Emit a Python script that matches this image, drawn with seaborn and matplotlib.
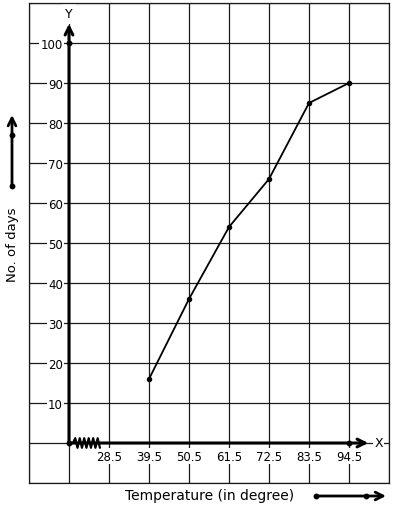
import numpy as np
import pandas as pd
import matplotlib
matplotlib.use("Agg")
import matplotlib.pyplot as plt
import seaborn as sns

# ---- data ----
upper_limits = [39.5, 50.5, 61.5, 72.5, 83.5, 94.5]
cum_days = [16, 36, 54, 66, 85, 90]
x_tick_values = [28.5, 39.5, 50.5, 61.5, 72.5, 83.5, 94.5]
x_tick_labels = ["28.5", "39.5", "50.5", "61.5", "72.5", "83.5", "94.5"]
y_tick_values = [10, 20, 30, 40, 50, 60, 70, 80, 90, 100]
origin_x = 17.5
axis_dots_x = [17.5, 17.5, 94.5]
axis_dots_y = [100, 0, 0]

sns.set_style("white")
plt.rcParams['font.family'] = ['DejaVu Sans']
plt.rcParams['text.color'] = 'black'
plt.rcParams['xtick.color'] = 'black'
plt.rcParams['ytick.color'] = 'black'

fig = plt.figure(figsize=(3.94, 5.10), dpi=100)
ax = fig.add_axes([29/394, 1-484/510, 360/394, 480/510])

df = pd.DataFrame({"temp": upper_limits, "days": cum_days})
sns.lineplot(data=df, x="temp", y="days", ax=ax, color="black", linewidth=1.3,
             marker="o", markersize=3.2, markeredgecolor="black", zorder=5)
ax.plot(axis_dots_x, axis_dots_y, "o", color="black", markersize=3.2, zorder=6)

ax.set_xlim(6.5, 105.5)
ax.set_ylim(-10, 110)

# grid
ax.set_xticks(x_tick_values)
ax.set_xticklabels(x_tick_labels)
ax.set_xticks([6.5, 17.5, 105.5], minor=True)
ax.set_yticks(y_tick_values)
ax.set_yticklabels([str(v) for v in y_tick_values])
ax.set_yticks([-10, 0, 110], minor=True)
ax.grid(True, which="both", color="#1a1a1a", linewidth=0.9)
ax.set_axisbelow(True)
ax.tick_params(axis="both", which="both", length=0)
ax.tick_params(axis="y", pad=-24.5, labelsize=8.5, labelcolor="black")
ax.tick_params(axis="x", pad=-24, labelsize=8.5, labelcolor="black")
for lab in ax.get_yticklabels() + ax.get_xticklabels():
    lab.set_bbox(dict(facecolor="white", edgecolor="none", pad=1.0))
for lab in ax.get_yticklabels():
    lab.set_horizontalalignment("right")
ax.set_xlabel("")
ax.set_ylabel("")
for s in ax.spines.values():
    s.set_color("#1a1a1a")
    s.set_linewidth(0.9)

# axes with arrows
ax.annotate("", xy=(origin_x, 104.8), xytext=(origin_x, 0),
            arrowprops=dict(arrowstyle="->", lw=2.2, color="black", shrinkA=0, shrinkB=0,
                            mutation_scale=14), zorder=4)
ax.annotate("", xy=(99.8, 0), xytext=(origin_x, 0),
            arrowprops=dict(arrowstyle="->", lw=2.2, color="black", shrinkA=0, shrinkB=0,
                            mutation_scale=14), zorder=4)
ax.text(origin_x, 107.3, "Y", ha="center", va="center", fontsize=9, zorder=1,
        bbox=dict(facecolor="white", edgecolor="none", pad=2.5))
ax.text(102.6, 0, "X", ha="center", va="center", fontsize=9,
        bbox=dict(facecolor="white", edgecolor="none", pad=0.5))

# kink on x-axis
zx = np.linspace(18.6, 26.0, 13)
zy = np.array([1.2 if i % 2 else -1.2 for i in range(13)])
zy[0] = 0
ax.plot(zx, zy, color="black", lw=1.6, zorder=5)

# axis titles with arrows (figure coords)
fig.text(13/394, 1-245/510, "No. of days", rotation=90, ha="center", va="center", fontsize=9.5)
fig.text(209.5/394, 1-496/510, "Temperature (in degree)", ha="center", va="center", fontsize=10)
fig.patches.append(matplotlib.patches.FancyArrowPatch(
    (12/394, 1-187/510), (12/394, 1-116/510), transform=fig.transFigure,
    arrowstyle="->", lw=2, color="black", mutation_scale=14, shrinkA=0, shrinkB=0))
fig.patches.append(matplotlib.patches.FancyArrowPatch(
    (316/394, 1-497/510), (386/394, 1-497/510), transform=fig.transFigure,
    arrowstyle="->", lw=2, color="black", mutation_scale=14, shrinkA=0, shrinkB=0))
fig.lines.append(matplotlib.lines.Line2D([12/394, 12/394], [1-187/510, 1-136/510],
    transform=fig.transFigure, linestyle="none", marker="o", markersize=3.2, color="black"))
fig.lines.append(matplotlib.lines.Line2D([316/394, 366/394], [1-497/510, 1-497/510],
    transform=fig.transFigure, linestyle="none", marker="o", markersize=3.2, color="black"))

fig.savefig("out.png", dpi=100)
